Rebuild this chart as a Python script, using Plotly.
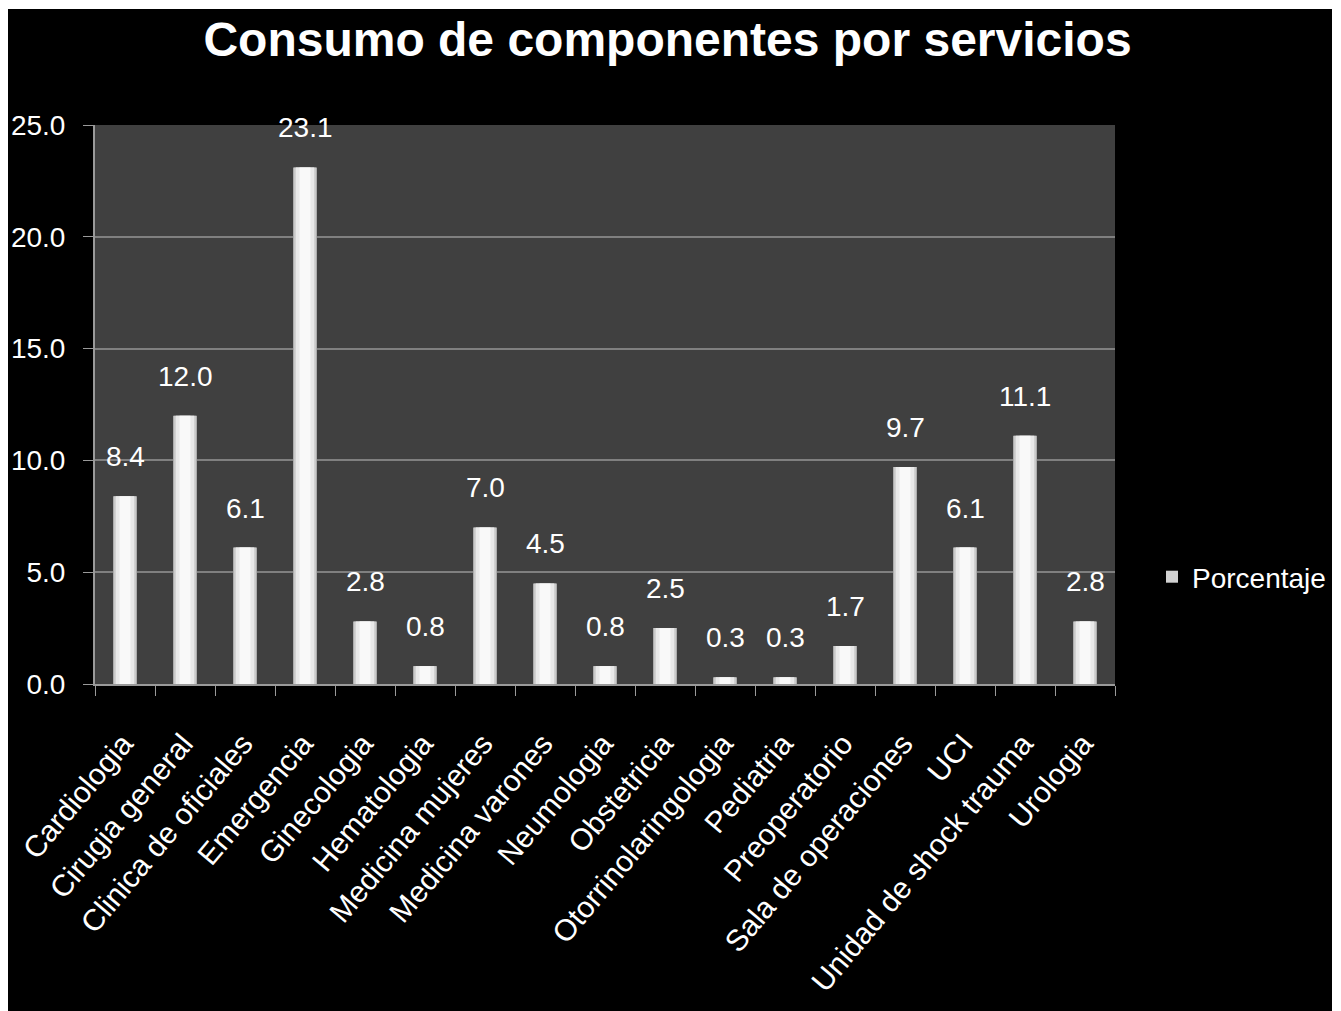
import plotly.graph_objects as go

categories = ["Cardiologia", "Cirugia general", "Clinica de oficiales", "Emergencia",
              "Ginecologia", "Hematologia", "Medicina mujeres", "Medicina varones",
              "Neumologia", "Obstetricia", "Otorrinolaringologia", "Pediatria",
              "Preoperatorio", "Sala de operaciones", "UCI", "Unidad de shock trauma",
              "Urologia"]
values = [8.4, 12.0, 6.1, 23.1, 2.8, 0.8, 7.0, 4.5, 0.8, 2.5, 0.3, 0.3, 1.7, 9.7, 6.1, 11.1, 2.8]
series_name = "Porcentaje"
y_ticks = [0, 5, 10, 15, 20, 25]

FONT = "Liberation Sans, Arial, sans-serif"

fig = go.Figure()
# layered bars to imitate the cylinder shading
layers = [(0.40, "#acacac"), (0.36, "#d2d2d2"), (0.30, "#e9e9e9"), (0.18, "#f9f9f9")]
for i, (w, col) in enumerate(layers):
    fig.add_trace(go.Bar(x=categories, y=values, name=series_name, width=w,
                         marker=dict(color=col, line=dict(width=0)),
                         showlegend=(i == 1), hoverinfo="skip" if i else None))

for c, v in zip(categories, values):
    fig.add_annotation(x=c, y=v, text=f"{v:.1f}", showarrow=False, yanchor="bottom",
                       yshift=22, font=dict(family=FONT, size=28, color="white"))

W, H = 1341, 1011
L, R, T, B = 95, 1115, 125, 684
def px(x):
    return (x - L) / (R - L)
def py(y):
    return (B - y) / (B - T)

shapes = [
    dict(type="rect", xref="paper", yref="paper", x0=px(8), x1=px(1332), y0=py(1011), y1=py(9),
         fillcolor="black", line=dict(width=0), layer="below"),
    dict(type="rect", xref="paper", yref="paper", x0=0, x1=1, y0=0, y1=1,
         fillcolor="#404040", line=dict(width=0), layer="below"),
]

fig.update_layout(
    width=W, height=H,
    margin=dict(l=L, r=W - R, t=T, b=H - B, autoexpand=False),
    paper_bgcolor="white",
    plot_bgcolor="rgba(0,0,0,0)",
    barmode="overlay",
    shapes=shapes,
    title=dict(text="<b>Consumo de componentes por servicios</b>", x=667.5 / W, xref="container",
               xanchor="center", y=1 - 39 / H, yref="container", yanchor="middle",
               font=dict(family=FONT, size=48, color="white")),
    font=dict(family=FONT, color="white"),
    legend=dict(x=px(1152), y=py(577), xanchor="left", yanchor="middle", bgcolor="rgba(0,0,0,0)",
                font=dict(family=FONT, size=28, color="white"), itemwidth=30),
    xaxis=dict(tickangle=-50, tickfont=dict(family=FONT, size=30, color="white"),
               showline=True, linecolor="#9a9a9a", linewidth=2, ticks="outside", tickson="boundaries",
               ticklen=10, tickcolor="#9a9a9a", showgrid=False, automargin=False,
               ticklabelstandoff=28, ticklabelshift=-2),
    yaxis=dict(range=[0, 25], tickvals=y_ticks, tickformat=".1f",
               tickfont=dict(family=FONT, size=28, color="white"),
               showline=True, linecolor="#9a9a9a", linewidth=2, ticks="outside", ticklen=10,
               tickcolor="#9a9a9a", showgrid=True, gridcolor="#808080", gridwidth=2,
               zeroline=False, ticklabelstandoff=12, automargin=False),
)

fig.write_html("out.html")
